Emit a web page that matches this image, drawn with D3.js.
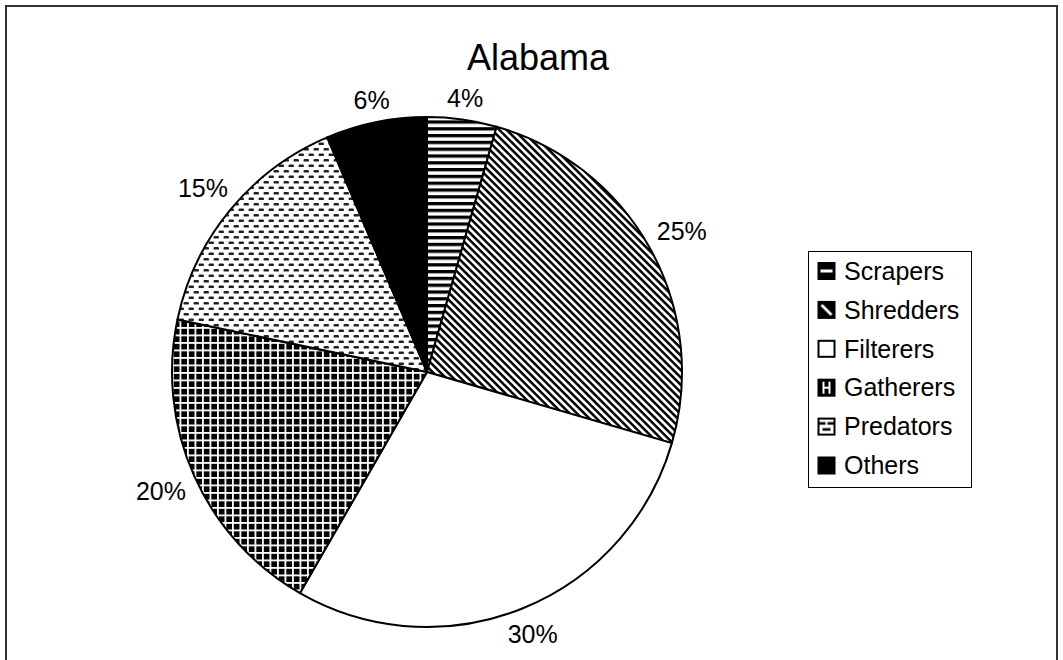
<!DOCTYPE html>
<html>
<head>
<meta charset="utf-8">
<script src="https://cdn.jsdelivr.net/npm/d3@7"></script>
<style>
  body { margin: 0; background: #fff; }
  svg { display: block; font-family: "Liberation Sans", Arial, sans-serif; }
</style>
</head>
<body>
<div id="container"></div>
<script>
// Data
var categories = ['Scrapers', 'Shredders', 'Filterers', 'Gatherers', 'Predators', 'Others'];
var values = [4.4, 25.1, 28.8, 20.0, 15.3, 6.4];
var percentLabels = ['4%', '25%', '30%', '20%', '15%', '6%'];
var patternIds = ['scrapers', 'shredders', 'filterers', 'gatherers', 'predators', 'others'];

// Size variables
var width = 1063;
var height = 660;
var cx = 427;
var cy = 372;
var radius = 255;
var keySize = 16;

var svg = d3.select('#container')
  .append('svg')
  .attr('width', width)
  .attr('height', height);

// Fill patterns for the slices
var defs = svg.append('defs');

function tile(id, w, h, bg) {
  var t = defs.append('pattern').attr('id', id)
    .attr('patternUnits', 'userSpaceOnUse').attr('width', w).attr('height', h);
  t.append('rect').attr('width', w).attr('height', h).attr('fill', bg);
  return t;
}

var p = tile('scrapers', 6.8, 6.8, '#fff');
p.append('rect').attr('width', 6.8).attr('height', 3.3).attr('fill', '#000');

p = tile('shredders', 5.2, 5.2, '#fff').attr('patternTransform', 'rotate(45)');
p.append('rect').attr('width', 5.2).attr('height', 2.5).attr('fill', '#000');

tile('filterers', 10, 10, '#fff');

p = tile('gatherers', 7.5, 7.5, '#000');
p.append('rect').attr('width', 7.5).attr('height', 1.8).attr('fill', '#fff');
p.append('rect').attr('width', 1.8).attr('height', 7.5).attr('fill', '#fff');

p = tile('predators', 10, 11, '#fff');
[[1.5, 1.5], [6.5, 7], [-3.5, 7]].forEach((o) => {
  p.append('rect').attr('x', o[0]).attr('y', o[1]).attr('width', 5.5).attr('height', 2.6)
    .attr('rx', 1.2).attr('fill', '#222');
});

tile('others', 10, 10, '#000');

// Legend keys: Excel shows a fixed crop of each pattern
function key(id, bg) {
  var k = defs.append('pattern').attr('id', 'key-' + id)
    .attr('patternUnits', 'objectBoundingBox').attr('width', 1).attr('height', 1);
  k.append('rect').attr('width', keySize).attr('height', keySize).attr('fill', bg);
  return k;
}

key('scrapers', '#000').append('rect')
  .attr('x', 2).attr('y', 6.5).attr('width', 12).attr('height', 3).attr('fill', '#fff');
key('shredders', '#000').append('path')
  .attr('d', 'M3,3L13,13').attr('stroke', '#fff').attr('stroke-width', 2.6);
key('filterers', '#fff');
var kg = key('gatherers', '#000');
kg.append('rect').attr('x', 4).attr('y', 2).attr('width', 2).attr('height', 12).attr('fill', '#fff');
kg.append('rect').attr('x', 10).attr('y', 2).attr('width', 2).attr('height', 12).attr('fill', '#fff');
kg.append('rect').attr('x', 4).attr('y', 7).attr('width', 8).attr('height', 2).attr('fill', '#fff');
var kp = key('predators', '#fff');
kp.append('rect').attr('x', 0).attr('y', 3.5).attr('width', 7).attr('height', 2.6).attr('fill', '#000');
kp.append('rect').attr('x', 9).attr('y', 3.5).attr('width', 7).attr('height', 2.6).attr('fill', '#000');
kp.append('rect').attr('x', 4).attr('y', 9.5).attr('width', 8).attr('height', 2.6).attr('fill', '#000');
key('others', '#000');

// Chart frame
svg.append('rect')
  .attr('x', 6)
  .attr('y', 6)
  .attr('width', 1051)
  .attr('height', 670)
  .attr('fill', 'none')
  .attr('stroke', '#333')
  .attr('stroke-width', 2);

// Title
svg.append('text')
  .attr('x', 538)
  .attr('y', 70)
  .attr('text-anchor', 'middle')
  .style('font-size', '36px')
  .text('Alabama');

// Pie
var pie = d3.pie().sort(null).value((d) => d)(values);
var arc = d3.arc().innerRadius(0).outerRadius(radius);

var g = svg.append('g').attr('transform', `translate(${cx}, ${cy})`);

g.selectAll('.slice')
  .data(pie)
  .enter().append('path')
  .attr('class', 'slice')
  .attr('d', arc)
  .attr('fill', (d, i) => `url(#${patternIds[i]})`)
  .attr('stroke', '#000')
  .attr('stroke-width', 2)
  .attr('stroke-linejoin', 'round');

// Percent labels, pushed out along the mid angle
var labels = g.selectAll('.pct')
  .data(pie)
  .enter().append('text')
  .attr('class', 'pct')
  .attr('text-anchor', 'middle')
  .attr('dy', '.35em')
  .style('font-size', '25px')
  .text((d, i) => percentLabels[i]);

labels.each(function (d) {
  var a = (d.startAngle + d.endAngle) / 2;
  var w = this.getComputedTextLength();
  var r = radius + 10 + Math.abs(Math.sin(a)) * w / 2 + Math.abs(Math.cos(a)) * 9;
  d3.select(this)
    .attr('x', Math.sin(a) * r)
    .attr('y', -Math.cos(a) * r);
});

// Legend
var legendBox = svg.append('g').attr('transform', 'translate(808.5, 251.5)');

legendBox.append('rect')
  .attr('width', 163)
  .attr('height', 236)
  .attr('fill', '#fff')
  .attr('stroke', '#000')
  .attr('stroke-width', 1);

var legend = legendBox.selectAll('.legend')
  .data(categories)
  .enter().append('g')
  .attr('class', 'legend')
  .attr('transform', (d, i) => `translate(0, ${19.5 + i * 38.9})`);

legend.append('rect')
  .attr('x', 10)
  .attr('y', -keySize / 2)
  .attr('width', keySize)
  .attr('height', keySize)
  .attr('fill', (d, i) => `url(#key-${patternIds[i]})`)
  .attr('stroke', '#000')
  .attr('stroke-width', 2);

legend.append('text')
  .attr('x', 35.5)
  .attr('dy', '.35em')
  .style('font-size', '25px')
  .text((d) => d);
</script>
</body>
</html>
